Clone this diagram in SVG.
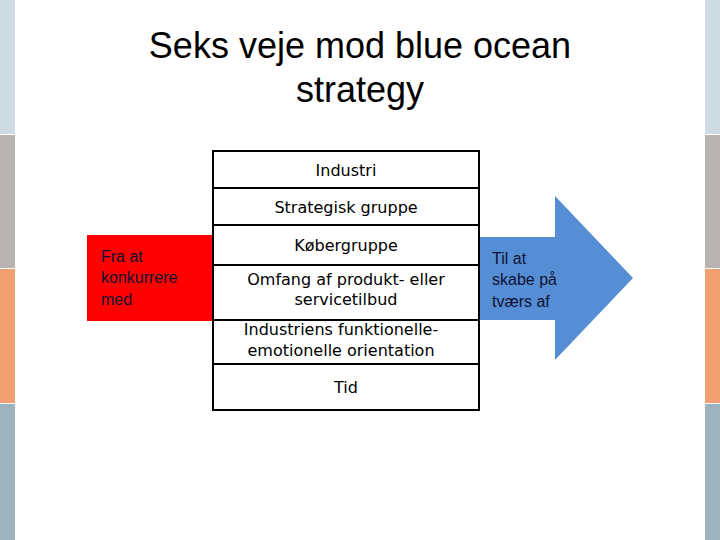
<svg xmlns="http://www.w3.org/2000/svg" width="720" height="540" viewBox="0 0 720 540">
<style>
.t{font-family:"DejaVu Sans",Verdana,sans-serif;font-size:16px;fill:#000;text-anchor:middle}
.s{font-family:"Liberation Sans",Arial,sans-serif;font-size:16px;fill:#111133}
.c{fill:#fff;stroke:#000;stroke-width:2}
</style>
<rect width="720" height="540" fill="#fff"/>
<g id="strips">
<rect x="0" y="0" width="15" height="134" fill="#cfdbe3"/>
<rect x="0" y="135" width="15" height="133" fill="#b8b2b0"/>
<rect x="0" y="269" width="15" height="134" fill="#f0a070"/>
<rect x="0" y="404" width="15" height="136" fill="#9fb2c0"/>
<rect x="705" y="0" width="15" height="134" fill="#cfdbe3"/>
<rect x="705" y="135" width="15" height="133" fill="#b8b2b0"/>
<rect x="705" y="269" width="15" height="134" fill="#f0a070"/>
<rect x="705" y="404" width="15" height="136" fill="#9fb2c0"/>
</g>
<g id="title" font-family="Liberation Sans,Arial,sans-serif" font-size="36" text-anchor="middle" fill="#000">
<text x="360" y="58">Seks veje mod blue ocean</text>
<text x="360" y="102">strategy</text>
</g>
<g id="left">
<rect x="87" y="235" width="126" height="86" fill="#ff0000"/>
<text class="s" x="101" y="262">Fra at</text>
<text class="s" x="101" y="283">konkurrere</text>
<text class="s" x="101" y="305">med</text>
</g>
<g id="right">
<polygon points="479,237 555,237 555,196 633,278 555,360 555,320 479,320" fill="#558ed5"/>
<text class="s" x="492" y="264">Til at</text>
<text class="s" x="492" y="285">skabe på</text>
<text class="s" x="492" y="307">tværs af</text>
</g>
<g id="r1"><rect class="c" x="213" y="151" width="266" height="37"/><text class="t" x="346" y="176">Industri</text></g>
<g id="r2"><rect class="c" x="213" y="188" width="266" height="37"/><text class="t" x="346" y="213">Strategisk gruppe</text></g>
<g id="r3"><rect class="c" x="213" y="225" width="266" height="40"/><text class="t" x="346" y="251">Købergruppe</text></g>
<g id="r4"><rect class="c" x="213" y="265" width="266" height="55"/><text class="t" x="346" y="285">Omfang af produkt- eller</text><text class="t" x="346" y="305">servicetilbud</text></g>
<g id="r5"><rect class="c" x="213" y="320" width="266" height="44"/><text class="t" x="341" y="335">Industriens funktionelle-</text><text class="t" x="341" y="356">emotionelle orientation</text></g>
<g id="r6"><rect class="c" x="213" y="364" width="266" height="46"/><text class="t" x="346" y="393">Tid</text></g>
<g id="connectors"/>
</svg>
